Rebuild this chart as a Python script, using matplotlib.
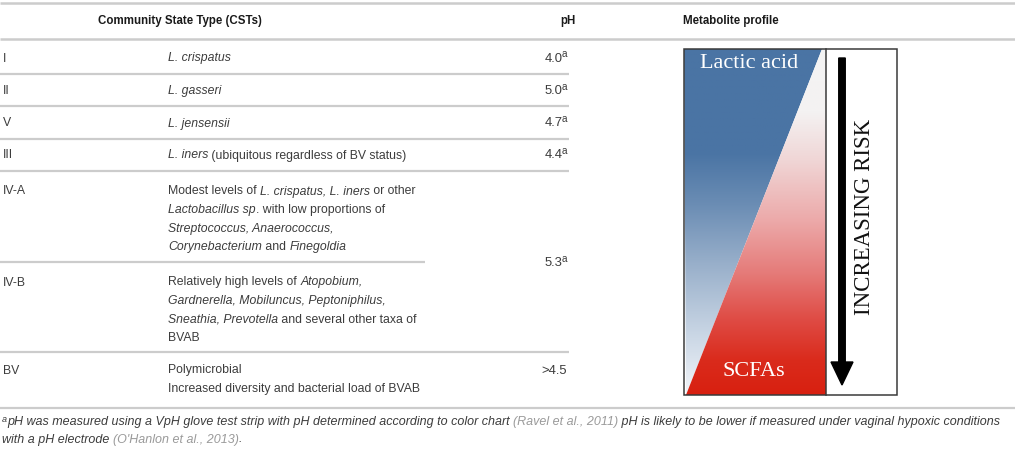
import numpy as np
import matplotlib
matplotlib.use("Agg")
import matplotlib.pyplot as plt
from matplotlib.patches import Polygon, Rectangle, FancyArrow

# ---------------- data ----------------
cst_types = ["I", "II", "V", "III", "IV-A", "IV-B", "BV"]
# descriptions as lines of (text, italic) runs
cst_descriptions = [
    [[("L. crispatus", True)]],
    [[("L. gasseri", True)]],
    [[("L. jensensii", True)]],
    [[("L. iners", True), (" (ubiquitous regardless of BV status)", False)]],
    [[("Modest levels of ", False), ("L. crispatus, L. iners", True), (" or other", False)],
     [("Lactobacillus sp", True), (". with low proportions of", False)],
     [("Streptococcus, Anaerococcus,", True)],
     [("Corynebacterium", True), (" and ", False), ("Finegoldia", True)]],
    [[("Relatively high levels of ", False), ("Atopobium,", True)],
     [("Gardnerella, Mobiluncus, Peptoniphilus,", True)],
     [("Sneathia, Prevotella", True), (" and several other taxa of", False)],
     [("BVAB", False)]],
    [[("Polymicrobial", False)],
     [("Increased diversity and bacterial load of BVAB", False)]],
]
ph_labels = ["4.0", "5.0", "4.7", "4.4", "5.3", ">4.5"]
ph_superscript = ["a", "a", "a", "a", "a", ""]
header_labels = ["Community State Type (CSTs)", "pH", "Metabolite profile"]
profile_labels = ["Lactic acid", "SCFAs", "INCREASING RISK"]
footnote_line1 = [("pH was measured using a VpH glove test strip with pH determined according to color chart ", False),
                  ("(Ravel et al., 2011)", True),
                  (" pH is likely to be lower if measured under vaginal hypoxic conditions", False)]
footnote_line2 = [("with a pH electrode ", False), ("(O'Hanlon et al., 2013)", True), (".", False)]

# ---------------- figure ----------------
W, H = 1015, 450
fig = plt.figure(figsize=(W / 100, H / 100), dpi=100)
ax = fig.add_axes([0, 0, 1, 1])
ax.set_xlim(0, W)
ax.set_ylim(H, 0)
ax.axis("off")
renderer = fig.canvas.get_renderer()

SANS = "Liberation Sans"
SERIF = "Liberation Serif"
TXT = "#3c3c3c"
CITE = "#9a9a9a"
LINE = "#cccccc"
FS = 8.8


def text_width(s, **kw):
    t = ax.text(0, 0, s + "l", **kw)
    w1 = t.get_window_extent(renderer).width
    t.remove()
    t = ax.text(0, 0, "l", **kw)
    w2 = t.get_window_extent(renderer).width
    t.remove()
    return w1 - w2


def draw_runs(x, y, runs, size=FS, color=TXT, alt_color=None, all_italic=False):
    for s, flag in runs:
        style = "italic" if (flag or all_italic) else "normal"
        c = alt_color if (alt_color is not None and flag) else color
        kw = dict(fontsize=size, family=SANS, style=style, color=c, va="baseline", ha="left")
        ax.text(x, y, s, **kw)
        x += text_width(s, **kw)
    return x


def hline(y, x0, x1, lw=1.6):
    ax.plot([x0, x1], [y, y], color=LINE, lw=lw, solid_capstyle="butt")


# rules
hline(3, 0, W, 1.8)
hline(38.5, 0, W, 1.8)
row_lines = [73.5, 106, 138.5, 170.5, 352]
for yy in row_lines:
    hline(yy, 0, 569)
hline(262, 0, 425)
hline(408, 0, W)

# header
hdr_y = 24
ax.text(180, hdr_y, header_labels[0], fontsize=8.3, family=SANS, weight="bold",
        color="#1a1a1a", ha="center", va="baseline")
ax.text(568, hdr_y, header_labels[1], fontsize=8.3, family=SANS, weight="bold",
        color="#1a1a1a", ha="center", va="baseline")
ax.text(683, hdr_y, header_labels[2], fontsize=8.3, family=SANS, weight="bold",
        color="#1a1a1a", ha="left", va="baseline")

# rows
row_first_centre = [57, 89.5, 122, 154, 190, 281, 369]
line_gap = 18.6
for i, (lab, desc, yc) in enumerate(zip(cst_types, cst_descriptions, row_first_centre)):
    base = yc + 4.5
    ax.text(3, base, lab, fontsize=FS, family=SANS, color=TXT, va="baseline", ha="left")
    for j, runs in enumerate(desc):
        draw_runs(168, base + j * line_gap, runs)

# pH column
ph_centre = [57, 89.5, 122, 154, 262, 369]
ph_right = 567
PH_FS = 9.4
for lab, sup, yc in zip(ph_labels, ph_superscript, ph_centre):
    base = yc + 4.5
    if sup:
        kw = dict(fontsize=7.2, family=SANS, color=TXT, va="baseline", ha="left")
        wsup = text_width(sup, **kw)
        xnum = ph_right - wsup + 1
        ax.text(xnum - 0.8, base - 4.2, sup, **kw)
        ax.text(xnum, base, lab, fontsize=PH_FS, family=SANS, color=TXT,
                va="baseline", ha="right")
    else:
        ax.text(ph_right, base, lab, fontsize=PH_FS, family=SANS, color=TXT,
                va="baseline", ha="right")

# footnote
fn_fs = 9.0
kw = dict(fontsize=6.5, family=SANS, style="italic", color=TXT, va="baseline", ha="left")
ax.text(2, 421.5, "a", **kw)
xs = 2 + text_width("a", **kw)
draw_runs(xs, 425.5, footnote_line1, size=fn_fs, alt_color=CITE, all_italic=True)
draw_runs(2, 442.5, footnote_line2, size=fn_fs, alt_color=CITE, all_italic=True)

# ---------------- metabolite profile graphic ----------------
bx0, bx1, by0, by1 = 684, 897, 49, 395
xdiv = 826
diag_top = 822
diag_bot = 686

def vgrad(stops):
    ys = np.linspace(0, 1, 400)
    pos = [p for p, _ in stops]
    cols = np.array([matplotlib.colors.to_rgb(c) for _, c in stops])
    img = np.stack([np.interp(ys, pos, cols[:, k]) for k in range(3)], axis=1)
    return img[:, None, :]

blue_stops = [(0.0, "#4a74a4"), (0.30, "#4a74a4"), (0.45, "#6b8db4"),
              (0.62, "#98afca"), (0.82, "#c8d5e4"), (1.0, "#f2f5f9")]
red_stops = [(0.0, "#f4f4f4"), (0.18, "#f4f2f2"), (0.32, "#f0d6d6"),
             (0.50, "#eca8a8"), (0.65, "#e57a78"), (0.78, "#df4c45"),
             (0.90, "#da2b1c"), (1.0, "#d82010")]

blue_tri = Polygon([[bx0, by0], [diag_top, by0], [diag_bot, by1]], closed=True,
                   facecolor="none", edgecolor="none")
red_tri = Polygon([[diag_top, by0], [xdiv, by0], [xdiv, by1], [diag_bot, by1]], closed=True,
                  facecolor="none", edgecolor="none")
ax.add_patch(blue_tri)
ax.add_patch(red_tri)
im1 = ax.imshow(vgrad(blue_stops), extent=[bx0, xdiv, by1, by0], aspect="auto",
                interpolation="bilinear", zorder=1)
im1.set_clip_path(blue_tri)
im2 = ax.imshow(vgrad(red_stops), extent=[bx0, xdiv, by1, by0], aspect="auto",
                interpolation="bilinear", zorder=1)
im2.set_clip_path(red_tri)
ax.set_xlim(0, W)
ax.set_ylim(H, 0)

ax.add_patch(Rectangle((bx0, by0), bx1 - bx0, by1 - by0, fill=False,
                       edgecolor="#3a3a3a", lw=1.1, zorder=3))
ax.plot([xdiv, xdiv], [by0, by1], color="#3a3a3a", lw=1.1, zorder=3)

ax.add_patch(FancyArrow(842, 58, 0, 327, width=6.5, head_width=22, head_length=23,
                        length_includes_head=True, color="black", zorder=3))

ax.text(749, 63, profile_labels[0], fontsize=16, family=SERIF, color="white",
        ha="center", va="center", zorder=4)
ax.text(754, 371, profile_labels[1], fontsize=16, family=SERIF, color="white",
        ha="center", va="center", zorder=4)
ax.text(865, 217, profile_labels[2], fontsize=16.5, family=SERIF, color="#111111",
        ha="center", va="center", rotation=90, zorder=4)

fig.savefig("out.png", dpi=100)
